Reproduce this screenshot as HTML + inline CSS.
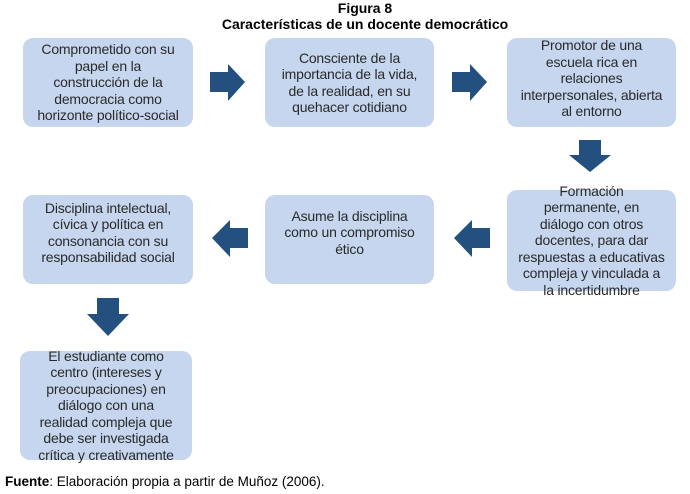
<!DOCTYPE html>
<html><head><meta charset="utf-8"><style>
body{margin:0;width:690px;height:494px;background:#fff;position:relative;font-family:"Liberation Sans",sans-serif;overflow:hidden}
.t{position:absolute;left:0;width:690px;text-align:center;font-weight:bold;font-size:14px;color:#000}
.b{position:absolute;background:#c5d6ee;border-radius:10px;display:flex;align-items:center;justify-content:center;text-align:center;font-size:14px;line-height:16.5px;color:#2a2a2a;box-sizing:border-box;white-space:nowrap;letter-spacing:-0.2px}
svg{position:absolute}
</style></head><body>
<div class="t" style="top:0;left:20px">Figura 8</div>
<div class="t" style="top:16px;left:20px">Características de un docente democrático</div>

<div class="b" style="left:23px;top:38px;width:170px;height:89px">Comprometido con su<br>papel en la<br>construcción de la<br>democracia como<br>horizonte político-social</div>
<div class="b" style="left:265px;top:38px;width:169px;height:89px">Consciente de la<br>importancia de la vida,<br>de la realidad, en su<br>quehacer cotidiano</div>
<div class="b" style="left:507px;top:38px;width:169px;height:89px;padding-bottom:8px">Promotor de una<br>escuela rica en<br>relaciones<br>interpersonales, abierta<br>al entorno</div>
<div class="b" style="left:507px;top:190px;width:169px;height:101px">Formación<br>permanente, en<br>diálogo con otros<br>docentes, para dar<br>respuestas a educativas<br>compleja y vinculada a<br>la incertidumbre</div>
<div class="b" style="left:265px;top:195px;width:169px;height:89px;padding-bottom:14px">Asume la disciplina<br>como un compromiso<br>ético</div>
<div class="b" style="left:23px;top:195px;width:170px;height:89px;padding-bottom:14px">Disciplina intelectual,<br>cívica y política en<br>consonancia  con su<br>responsabilidad social</div>
<div class="b" style="left:20px;top:351px;width:172px;height:109px">El estudiante como<br>centro (intereses y<br>preocupaciones) en<br>diálogo con una<br>realidad compleja que<br>debe ser investigada<br>crítica y creativamente</div>

<svg width="690" height="494" style="left:0;top:0">
<g fill="#24507f">
<polygon points="210,72 228,72 228,64 245,82 228,101 228,92 210,92"/>
<polygon points="452,72 470,72 470,64 487,82 470,101 470,92 452,92"/>
<polygon points="579,140 601,140 601,155 611,155 590,172 569,155 579,155"/>
<polygon points="490,228 472,228 472,220 454,238 472,257 472,248 490,248"/>
<polygon points="248,228 230,228 230,220 212,238 230,257 230,248 248,248"/>
<polygon points="97,298 119,298 119,314 129,314 108,336 87,314 97,314"/>
</g>
</svg>
<div style="position:absolute;left:5px;top:474px;font-size:13.5px;color:#000"><b>Fuente</b>: Elaboración propia a partir de Muñoz (2006).</div>
</body></html>
